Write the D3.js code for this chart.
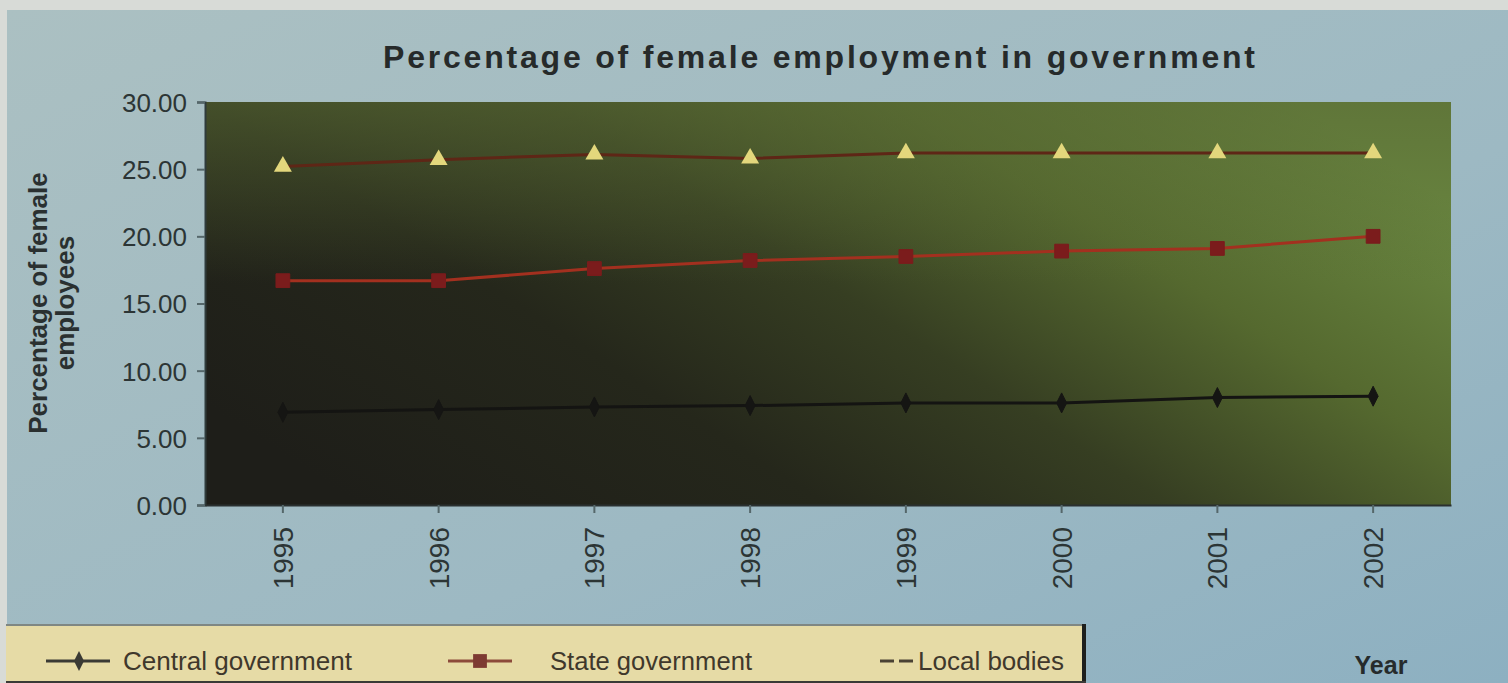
<!DOCTYPE html>
<html>
<head>
<meta charset="utf-8">
<script src="https://cdn.jsdelivr.net/npm/d3@7"></script>
<style>
  html, body { margin: 0; padding: 0; background: #d8dbd7; }
  svg { display: block; font-family: "Liberation Sans", Arial, sans-serif; }
</style>
</head>
<body>
<svg id="chart" width="1508" height="683"></svg>
<script>
// Years on the category axis
const years = ["1995", "1996", "1997", "1998", "1999", "2000", "2001", "2002"];

// Share of women among employees (%)
const centralGov = [6.9, 7.1, 7.3, 7.4, 7.6, 7.6, 8.0, 8.1];
const stateGov   = [16.7, 16.7, 17.6, 18.2, 18.5, 18.9, 19.1, 20.0];
const localBodies = [25.2, 25.7, 26.1, 25.8, 26.2, 26.2, 26.2, 26.2];

const yTicks = [0, 5, 10, 15, 20, 25, 30];
const seriesNames = ["Central government", "State government", "Local bodies"];

const titleText = "Percentage of female employment in government";
const yTitleLines = ["Percentage of female", "employees"];
const xTitle = "Year";

const svg = d3.select("#chart");
const W = 1508, H = 683;
const plot = { left: 205, right: 1451, top: 102, bottom: 505 };

const defs = svg.append("defs");

// outer chart background
const bgGrad = defs.append("linearGradient").attr("id", "bgGrad")
  .attr("x1", 0).attr("y1", 0).attr("x2", 1).attr("y2", 1);
bgGrad.append("stop").attr("offset", 0).attr("stop-color", "#abc0c2");
bgGrad.append("stop").attr("offset", 0.6).attr("stop-color", "#9db9c3");
bgGrad.append("stop").attr("offset", 1).attr("stop-color", "#8db0c1");

// plot area: dark in the lower left, olive green toward the right
const plotGrad = defs.append("linearGradient").attr("id", "plotGrad")
  .attr("x1", 0).attr("y1", 0.75).attr("x2", 1).attr("y2", 0.25);
plotGrad.append("stop").attr("offset", 0).attr("stop-color", "#1e1e19");
plotGrad.append("stop").attr("offset", 0.3).attr("stop-color", "#25271b");
plotGrad.append("stop").attr("offset", 0.52).attr("stop-color", "#363e22");
plotGrad.append("stop").attr("offset", 0.75).attr("stop-color", "#55692f");
plotGrad.append("stop").attr("offset", 1).attr("stop-color", "#6a8841");

const plotGrad2 = defs.append("linearGradient").attr("id", "plotGrad2")
  .attr("x1", 0).attr("y1", 0).attr("x2", 0).attr("y2", 1);
plotGrad2.append("stop").attr("offset", 0).attr("stop-color", "#596a34").attr("stop-opacity", 0.6);
plotGrad2.append("stop").attr("offset", 0.45).attr("stop-color", "#596a34").attr("stop-opacity", 0.0);

svg.append("rect").attr("x", 7).attr("y", 10).attr("width", W - 7).attr("height", H - 10)
  .attr("fill", "url(#bgGrad)");

svg.append("rect").attr("x", plot.left).attr("y", plot.top)
  .attr("width", plot.right - plot.left).attr("height", plot.bottom - plot.top)
  .attr("fill", "url(#plotGrad)");
svg.append("rect").attr("x", plot.left).attr("y", plot.top)
  .attr("width", plot.right - plot.left).attr("height", plot.bottom - plot.top)
  .attr("fill", "url(#plotGrad2)");

// scales
const x = d3.scaleBand().domain(years).range([plot.left, plot.right]);
const xc = d => x(d) + x.bandwidth() / 2;
const y = d3.scaleLinear().domain([0, 30]).range([plot.bottom, plot.top]);

// axes
const yAxis = d3.axisLeft(y).tickValues(yTicks).tickFormat(d3.format(".2f")).tickSize(8).tickPadding(10);
const gy = svg.append("g").attr("transform", `translate(${plot.left},0)`).call(yAxis);
gy.select(".domain").attr("stroke", "#2f3b3b").attr("stroke-width", 2);
gy.selectAll(".tick line").attr("stroke", "#55676a").attr("stroke-width", 2);
gy.selectAll(".tick text").attr("fill", "#2c3535").style("font-size", "26px")
  .attr("dy", "0.36em");

const xAxis = d3.axisBottom(x).tickSize(8).tickSizeOuter(0).tickPadding(0);
const gx = svg.append("g").attr("transform", `translate(0,${plot.bottom})`).call(xAxis);
gx.select(".domain").attr("stroke", "#2a3030").attr("stroke-width", 2);
gx.selectAll(".tick line").attr("stroke", "#55676a").attr("stroke-width", 2);
gx.selectAll(".tick text")
  .attr("fill", "#2c3535").style("font-size", "28px")
  .attr("transform", "rotate(-90)")
  .attr("text-anchor", "end")
  .attr("x", -22).attr("y", 0).attr("dy", "0.36em");

// series
const series = [
  { name: seriesNames[0], values: centralGov, line: "#141412", marker: "diamond", fill: "#151513" },
  { name: seriesNames[1], values: stateGov, line: "#a3301f", marker: "square", fill: "#7b1c1c" },
  { name: seriesNames[2], values: localBodies, line: "#5e2616", marker: "triangle", fill: "#e3d77c" }
];

const lineGen = d3.line().x((d, i) => xc(years[i])).y(d => y(d));
const markerPath = {
  diamond: "M0,-10L5,0L0,10L-5,0Z",
  square: d3.symbol().type(d3.symbolSquare).size(190)(),
  triangle: d3.symbol().type(d3.symbolTriangle).size(140)()
};

series.forEach(s => {
  svg.append("path").datum(s.values)
    .attr("d", lineGen).attr("fill", "none")
    .attr("stroke", s.line).attr("stroke-width", 3);
  svg.append("g").selectAll("path").data(s.values).join("path")
    .attr("d", markerPath[s.marker])
    .attr("transform", (d, i) => `translate(${xc(years[i])},${y(d)})`)
    .attr("fill", s.fill)
    .attr("stroke", s.marker === "triangle" ? "none" : s.fill);
});

// title
svg.append("text").attr("x", 383).attr("y", 68)
  .attr("textLength", 872).attr("lengthAdjust", "spacing")
  .style("font-size", "32px").style("font-weight", "bold").attr("fill", "#262a2a")
  .text(titleText);

// y-axis title (two lines)
yTitleLines.forEach((t, i) => {
  svg.append("text")
    .attr("transform", `translate(${47 + i * 27},${303}) rotate(-90)`)
    .attr("text-anchor", "middle")
    .style("font-size", "26px").style("font-weight", "bold").attr("fill", "#2a3030")
    .text(t);
});

// x-axis title
svg.append("text").attr("x", 1381).attr("y", 674).attr("text-anchor", "middle")
  .style("font-size", "25px").style("font-weight", "bold").attr("fill", "#262b2b")
  .text(xTitle);

// legend
const lg = svg.append("g");
lg.append("rect").attr("x", 6).attr("y", 624).attr("width", 1080).attr("height", 62)
  .attr("fill", "#e6dba6");
lg.append("line").attr("x1", 6).attr("x2", 1086).attr("y1", 625).attr("y2", 625)
  .attr("stroke", "#7f8783").attr("stroke-width", 2);
lg.append("line").attr("x1", 1084).attr("x2", 1084).attr("y1", 624).attr("y2", 683)
  .attr("stroke", "#1e1f1c").attr("stroke-width", 4);
lg.append("line").attr("x1", 6).attr("x2", 1086).attr("y1", 682).attr("y2", 682)
  .attr("stroke", "#3a3a36").attr("stroke-width", 2);

const legendItems = [
  { s: series[0], x1: 46, x2: 110, mx: 79, tx: 123 },
  { s: series[1], x1: 448, x2: 512, mx: 480, tx: 550 },
  { s: series[2], x1: 880, x2: 914, mx: 902, tx: 918 }
];
const ly = 661;
legendItems.forEach((it, i) => {
  lg.append("line").attr("x1", it.x1).attr("x2", it.x2).attr("y1", ly).attr("y2", ly)
    .attr("stroke", i === 0 ? "#3a3a34" : (i === 1 ? "#8c4a3a" : "#4a4234"))
    .attr("stroke-width", 3)
    .attr("stroke-dasharray", i === 2 ? "14 5" : null);
  if (i < 2) {
    lg.append("path")
      .attr("d", markerPath[it.s.marker])
      .attr("transform", `translate(${it.mx},${ly})`)
      .attr("fill", i === 0 ? "#3a3a34" : "#7d3a32");
  }
  lg.append("text").attr("x", it.tx).attr("y", ly).attr("dy", "0.36em")
    .style("font-size", "25px").attr("fill", "#3f382c")
    .attr("textLength", [229, 202, 146][i]).attr("lengthAdjust", "spacingAndGlyphs")
    .text(it.s.name);
});
</script>
</body>
</html>
